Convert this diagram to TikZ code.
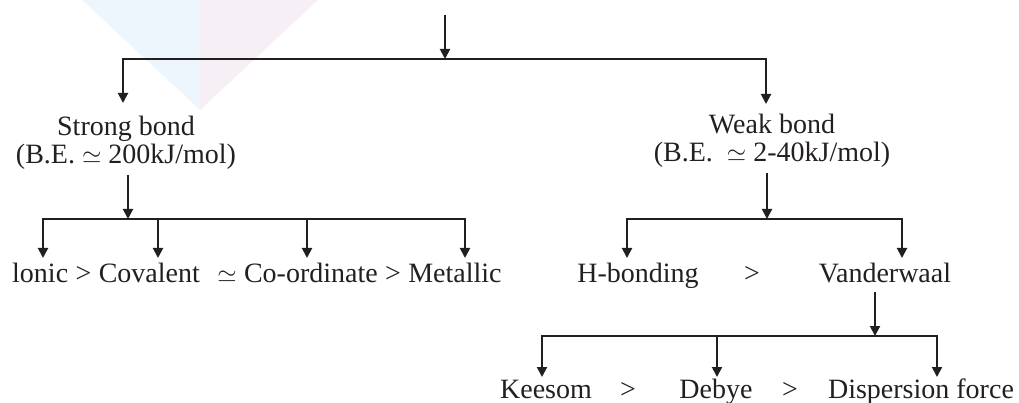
\documentclass[tikz,border=0pt]{standalone}
\usepackage{fontspec}
\setmainfont{Liberation Serif}
\usetikzlibrary{arrows.meta}
\definecolor{ink}{RGB}{35,31,32}
\definecolor{markblue}{RGB}{238,246,253}
\definecolor{markpink}{RGB}{247,239,246}
\begin{document}
\begin{tikzpicture}[x=1pt,y=-1pt,
  txt/.style={inner sep=0pt, anchor=base, text=ink, font=\fontsize{28}{28}\selectfont},
  word/.style={txt, anchor=base west},
  head/.style={txt, anchor=north, align=center},
  arr/.style={draw=ink, line width=2pt, -{Triangle[width=10pt,length=10pt]}}]
\useasboundingbox (0,0) rectangle (1019,403);

% faint logo mark in the background
\fill[markblue] (82,0) -- (200,0) -- (200,110) -- cycle;
\fill[markpink] (200,0) -- (318,0) -- (200,110) -- cycle;

% first level
\coordinate (root) at (445,15);
\coordinate (j0) at (445,59);
\coordinate (sa) at (123,103);
\coordinate (wa) at (766,104);
\draw[arr] (root) -- (j0);
\draw[arr] (j0) -| (sa);
\draw[arr] (j0) -| (wa);

\node[head] (strong) at (126,116) {Strong bond\\(B.E. $\simeq$ 200kJ/mol)};
\node[head] (weak)   at (772,114) {Weak bond\\(B.E. \ $\simeq$ 2-40kJ/mol)};

% strong bonds
\coordinate (j1) at (128,219);
\coordinate (s1) at (128,175);
\draw[arr] (s1) -- (j1);
\node[word] (ionic) at (12,282) {lonic};
\node[word] (g1)   at ([xshift=7pt]ionic.base east) {>};
\node[word] (cov)  at ([xshift=7pt]g1.base east) {Covalent};
\node[word] (sim)  at ([xshift=17pt]cov.base east) {$\simeq$};
\node[word] (cord) at ([xshift=7pt]sim.base east) {Co-ordinate};
\node[word] (g2)   at ([xshift=7pt]cord.base east) {>};
\node[word] (met)  at ([xshift=7pt]g2.base east) {Metallic};
\coordinate (a1) at (43,258);
\coordinate (a2) at (158,258);
\coordinate (a3) at (307,258);
\coordinate (a4) at (465,258);
\foreach \t in {a1,a2,a3,a4} \draw[arr] (j1) -| (\t);

% weak bonds
\coordinate (j2) at (767,219);
\coordinate (w1) at (767,173);
\draw[arr] (w1) -- (j2);
\node[txt] (hb)  at (638,282) {H-bonding};
\node[txt] (g3)  at (752,282) {>};
\node[txt] (vdw) at (885,282) {Vanderwaal};
\coordinate (b1) at (627,258);
\coordinate (b2) at (902,258);
\draw[arr] (j2) -| (b1);
\draw[arr] (j2) -| (b2);

% van der Waals forces
\coordinate (j3) at (875,336);
\coordinate (v1) at (875,292);
\draw[arr] (v1) -- (j3);
\node[txt] (kee)  at (546,398) {Keesom};
\node[txt] (g4)   at (628,398) {>};
\node[txt] (deb)  at (716,398) {Debye};
\node[txt] (g5)   at (790,398) {>};
\node[txt] (disp) at (921,398) {Dispersion force};
\coordinate (c1) at (542,377);
\coordinate (c2) at (717,377);
\coordinate (c3) at (937,377);
\foreach \t in {c1,c2,c3} \draw[arr] (j3) -| (\t);
\end{tikzpicture}
\end{document}
